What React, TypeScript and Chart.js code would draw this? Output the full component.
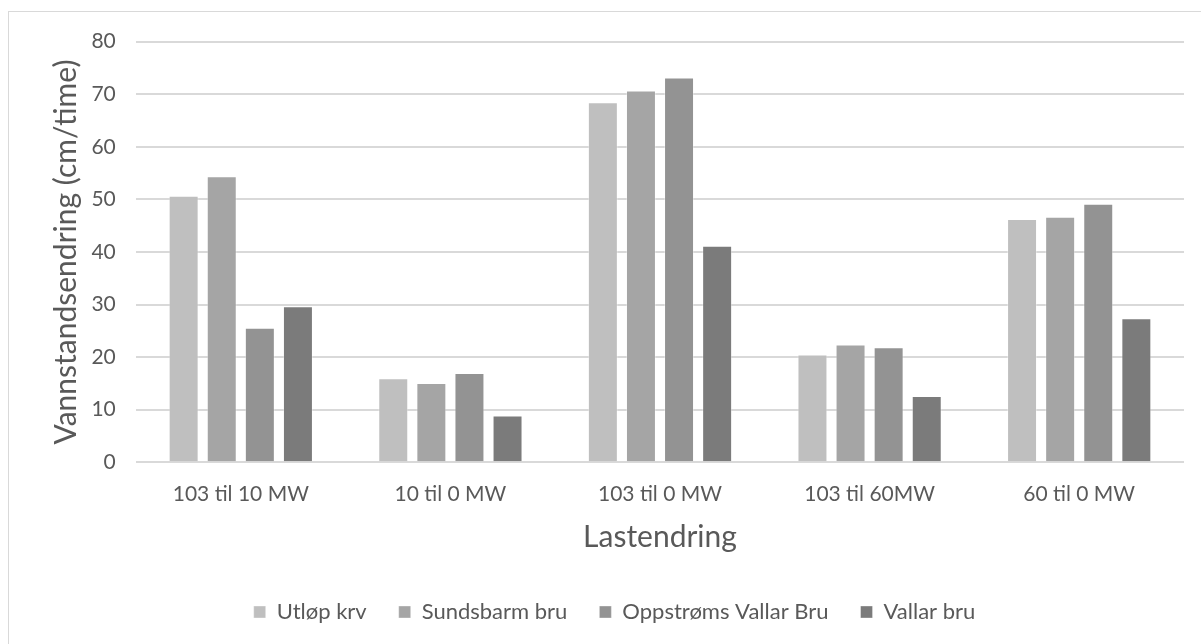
import React, { useEffect, useRef } from "react";
import { Chart, registerables } from "chart.js";

Chart.register(...registerables);

// Load changes on the category axis
const categories = ["103 til 10 MW", "10 til 0 MW", "103 til 0 MW", "103 til 60MW", "60 til 0 MW"];

// Water level change rate (cm/time) per measuring station
const utlopKrv = [50.7, 16.0, 68.5, 20.5, 46.3];
const sundsbarmBru = [54.4, 15.1, 70.7, 22.4, 46.7];
const oppstromsVallarBru = [25.6, 17.0, 73.2, 21.9, 49.2];
const vallarBru = [29.7, 8.9, 41.2, 12.6, 27.4];

const seriesNames = ["Utløp krv", "Sundsbarm bru", "Oppstrøms Vallar Bru", "Vallar bru"];
const seriesColors = ["#bfbfbf", "#a5a5a5", "#939393", "#7b7b7b"];

const yMin = 0;
const yMax = 80;
const yStep = 10;

const yTitle = "Vannstandsendring (cm/time)";
const xTitle = "Lastendring";

const FONT = "Lato, 'Open Sans', sans-serif";
const TEXT = "#595959";
const GRID = "#d9d9d9";

export default function App() {
  const canvasRef = useRef<HTMLCanvasElement | null>(null);

  useEffect(() => {
    if (!canvasRef.current) return;
    const values = [utlopKrv, sundsbarmBru, oppstromsVallarBru, vallarBru];
    const chart = new Chart(canvasRef.current, {
      type: "bar",
      data: {
        labels: categories,
        datasets: seriesNames.map((name, i) => ({
          label: name,
          data: values[i],
          backgroundColor: seriesColors[i],
          borderColor: "rgba(255,255,255,0.35)",
          borderWidth: 1,
          categoryPercentage: 0.727,
          barPercentage: 0.787,
        })),
      },
      options: {
        responsive: false,
        animation: false,
        layout: { padding: { left: 36, right: 17, top: 29.7, bottom: 11 } },
        plugins: {
          tooltip: { enabled: false },
          legend: {
            position: "bottom",
            align: "center",
            labels: {
              boxWidth: 12,
              boxHeight: 12,
              padding: 32,
              color: TEXT,
              font: { family: FONT, size: 22 },
            },
          },
        },
        scales: {
          x: {
            grid: { display: false, drawTicks: false },
            border: { display: false },
            ticks: {
              color: TEXT,
              padding: 19.4,
              maxRotation: 0,
              autoSkip: false,
              font: { family: FONT, size: 21 },
            },
            title: {
              display: true,
              text: xTitle,
              color: TEXT,
              font: { family: FONT, size: 30 },
              padding: { top: 0, bottom: 14 },
            },
            afterFit: (scale: any) => {
              scale.height = 106.7;
            },
          },
          y: {
            min: yMin,
            max: yMax,
            grid: { color: GRID, lineWidth: 2, drawTicks: false },
            border: { display: false },
            ticks: {
              stepSize: yStep,
              color: TEXT,
              padding: 20.2,
              font: { family: FONT, size: 21, lineHeight: 0.9 },
            },
            title: {
              display: true,
              text: yTitle,
              color: TEXT,
              font: { family: FONT, size: 30 },
              padding: { top: 3, bottom: 0 },
            },
            afterFit: (scale: any) => {
              scale.width = 91;
            },
          },
        },
      },
    });
    return () => chart.destroy();
  }, []);

  return (
    <div
      style={{
        position: "fixed",
        left: 0,
        top: 0,
        width: 1201,
        height: 644,
        overflow: "hidden",
        background: "#ffffff",
      }}
    >
      <div
        style={{
          position: "absolute",
          left: 8,
          top: 11,
          width: 1210,
          height: 660,
          border: `1px solid ${GRID}`,
          background: "#ffffff",
        }}
      >
        <canvas
          ref={canvasRef}
          width={1192}
          height={632}
          style={{ position: "absolute", left: 0, top: 0, width: 1192, height: 632 }}
        />
      </div>
    </div>
  );
}
